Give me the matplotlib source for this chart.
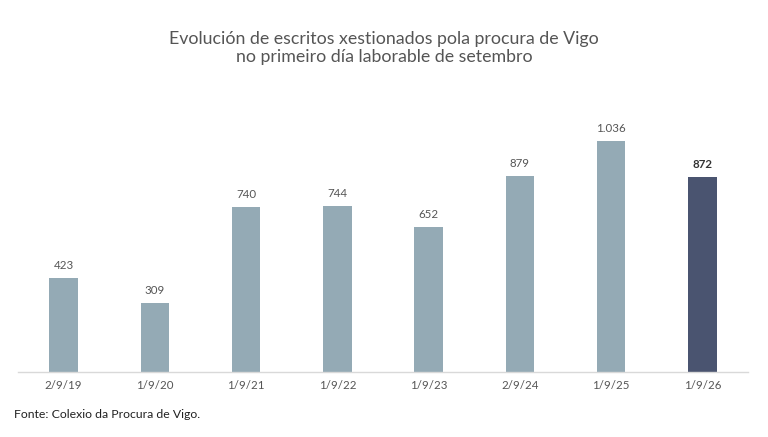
import matplotlib
matplotlib.use("Agg")
import matplotlib.pyplot as plt

# datos
datas = ["2/9/19", "1/9/20", "1/9/21", "1/9/22", "1/9/23", "2/9/24", "1/9/25", "1/9/26"]
escritos = [423, 309, 740, 744, 652, 879, 1036, 872]
etiquetas = ["423", "309", "740", "744", "652", "879", "1.036", "872"]

plt.rcParams['font.family'] = ['Lato', 'DejaVu Sans']

cor_clara = "#94aab5"
cor_escura = "#4a5470"
cor_texto = "#555555"

fig = plt.figure(figsize=(7.68, 4.37), dpi=100)
ax = fig.add_axes([0.0234, 0.1487, 0.9506, 0.62])

x = range(len(datas))
cores = [cor_clara] * (len(datas) - 1) + [cor_escura]
bars = ax.bar(x, escritos, width=0.31, color=cores)

for i, (b, lab) in enumerate(zip(bars, etiquetas)):
    ultimo = i == len(datas) - 1
    ax.annotate(lab, (b.get_x() + b.get_width() / 2, b.get_height()),
                xytext=(0, 5), textcoords="offset points", ha="center", va="bottom",
                fontsize=8.3, color="#333333" if ultimo else cor_texto,
                fontweight="bold" if ultimo else "normal")

ax.set_xlim(-0.5, len(datas) - 0.5)
ax.set_ylim(0, 1214)
ax.set_xticks(list(x))
ax.set_xticklabels(datas, fontsize=8.3, color=cor_texto)
ax.tick_params(axis="x", length=0, pad=6)
ax.set_yticks([])
for s in ["top", "right", "left"]:
    ax.spines[s].set_visible(False)
ax.spines["bottom"].set_color("#d9d9d9")
ax.spines["bottom"].set_linewidth(1)

fig.text(0.5, 0.89, "Evolución de escritos xestionados pola procura de Vigo\nno primeiro día laborable de setembro",
         ha="center", va="center", fontsize=12.8, color=cor_texto, linespacing=1.2)
fig.text(0.018, 0.052, "Fonte: Colexio da Procura de Vigo.", ha="left", va="center",
         fontsize=8.8, color="#222222")

fig.savefig("out.png", dpi=100)
